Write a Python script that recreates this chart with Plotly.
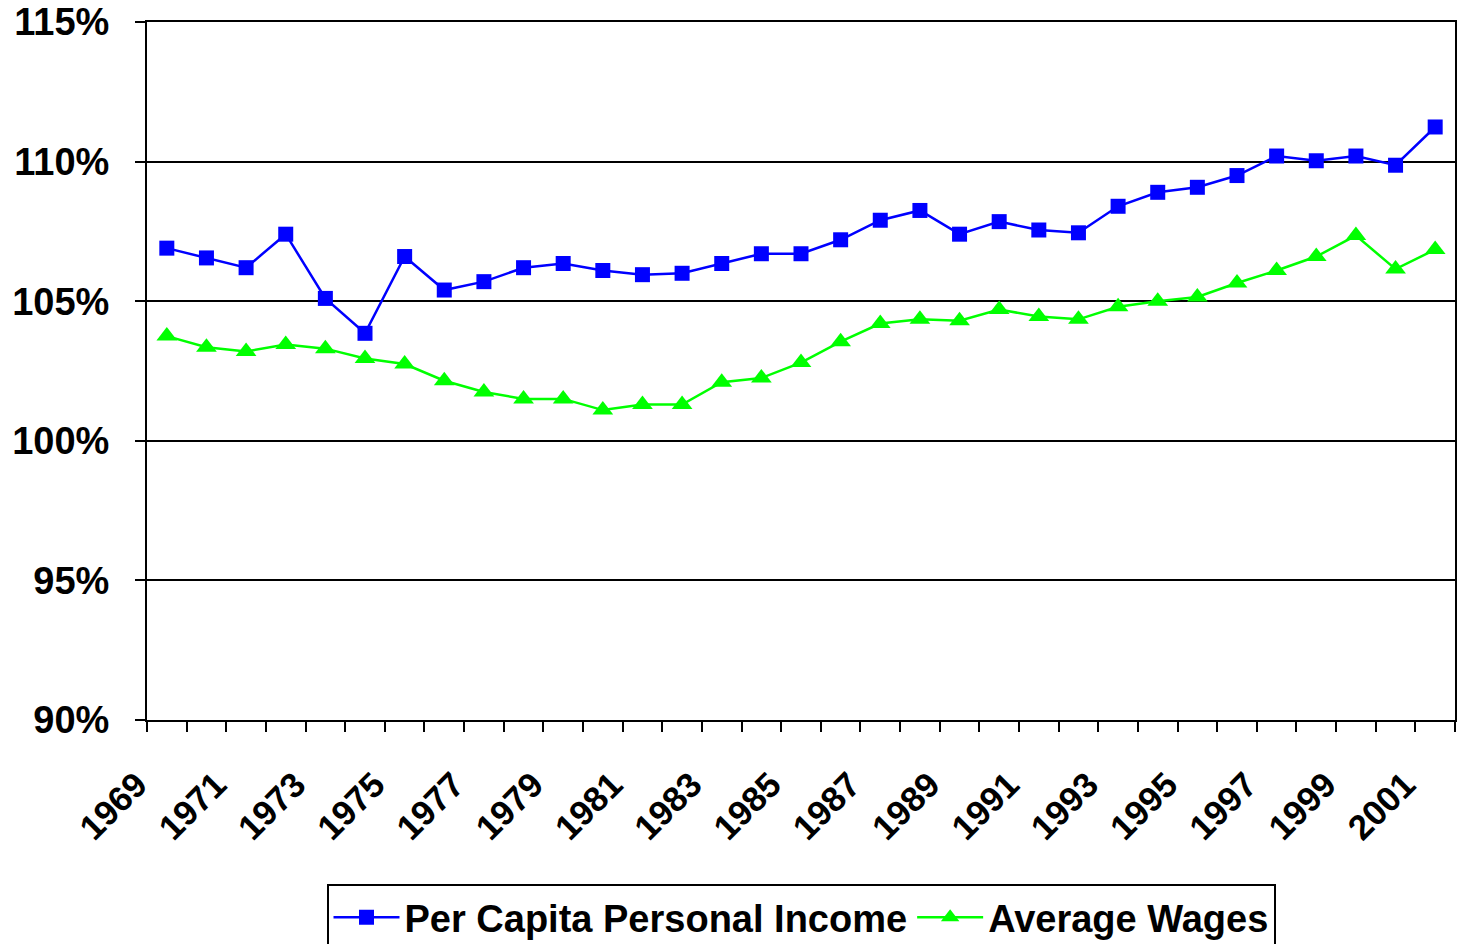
import plotly.graph_objects as go

years = [str(y) for y in range(1969, 2002)]
per_capita_income = [106.9, 106.55, 106.2, 107.4, 105.1, 103.85, 106.6, 105.4, 105.7, 106.2,
                     106.35, 106.1, 105.95, 106.0, 106.35, 106.7, 106.7, 107.2, 107.9, 108.25,
                     107.4, 107.85, 107.55, 107.45, 108.4, 108.9, 109.08, 109.5, 110.2, 110.03,
                     110.2, 109.87, 111.24]
average_wages = [103.75, 103.35, 103.2, 103.45, 103.3, 102.95, 102.75, 102.15, 101.75, 101.5,
                 101.5, 101.1, 101.3, 101.3, 102.1, 102.25, 102.8, 103.55, 104.2, 104.35,
                 104.3, 104.7, 104.45, 104.35, 104.8, 105.0, 105.15, 105.65, 106.1, 106.6,
                 107.35, 106.15, 106.85]
tick_text = [y if i % 2 == 0 else "" for i, y in enumerate(years)]
y_ticks = [90, 95, 100, 105, 110, 115]
y_tick_text = [f"{v}%" for v in y_ticks]

FONT = "Liberation Sans, Arial, sans-serif"

fig = go.Figure()
fig.add_trace(go.Scatter(
    x=years, y=per_capita_income, name="Per Capita Personal Income",
    mode="lines+markers",
    line=dict(color="#0000FF", width=2.5),
    marker=dict(symbol="square", size=15, color="#0000FF"),
))
fig.add_trace(go.Scatter(
    x=years, y=average_wages, name="Average Wages",
    mode="lines+markers",
    line=dict(color="#00FF00", width=2.5),
    marker=dict(symbol="triangle-up", size=18, color="#00FF00"),
))

fig.update_layout(
    width=1457, height=944,
    paper_bgcolor="white", plot_bgcolor="white",
    margin=dict(l=147, r=2, t=22, b=224, autoexpand=False),
    font=dict(family=FONT, color="black", size=34),
    showlegend=True,
    legend=dict(
        orientation="h", x=0.5, xanchor="center",
        yref="container", y=0.0636, yanchor="top",
        bordercolor="black", borderwidth=2, bgcolor="white",
        font=dict(family=FONT, size=38, color="black", weight="bold"),
        itemwidth=66,
    ),
)
fig.update_xaxes(
    type="category", tickmode="array", tickvals=years, ticktext=tick_text,
    tickson="boundaries", ticks="outside", ticklen=10, tickwidth=2, tickcolor="black",
    tickangle=-45, tickfont=dict(family=FONT, size=35, weight="bold"),
    showline=True, linecolor="black", linewidth=2, mirror=True,
    showgrid=False, zeroline=False, ticklabelstandoff=28, ticklabelshift=-30,
    automargin=False, range=[-0.5, len(years) - 0.5],
)
fig.update_yaxes(
    range=[90, 115], tickmode="array", tickvals=y_ticks, ticktext=y_tick_text,
    ticks="outside", ticklen=10, tickwidth=2, tickcolor="black",
    tickfont=dict(family=FONT, size=38, weight="bold"),
    showline=True, linecolor="black", linewidth=2, mirror=True,
    showgrid=True, gridcolor="black", gridwidth=2, zeroline=False,
    ticklabelstandoff=18, automargin=False,
)

fig.write_html(
    "out.html",
    config={"displayModeBar": False},
    post_script="document.body.style.margin='0';document.body.style.overflow='hidden';",
)
